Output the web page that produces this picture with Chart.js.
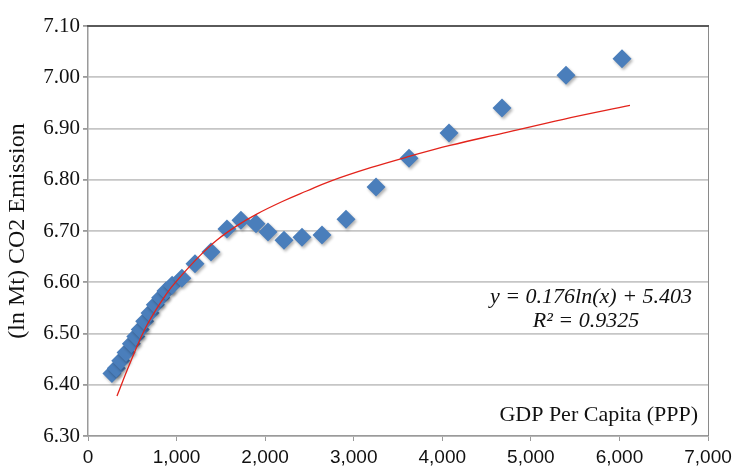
<!DOCTYPE html>
<html>
<head>
<meta charset="utf-8">
<script src="https://cdn.jsdelivr.net/npm/chart.js@4"></script>
<style>
  html, body { margin: 0; padding: 0; background: #fff; }
  #wrap { width: 744px; height: 468px; }
</style>
</head>
<body>
<div id="wrap"><canvas id="grafico"></canvas></div>
<script>
// GDP per capita (PPP) vs ln CO2 emission
const gdp = [270, 320, 370, 430, 490, 540, 590, 640, 700, 760, 820, 880, 950, 1060,
  1208, 1389, 1569, 1727, 1897, 2032, 2213, 2416, 2642, 2913, 3252, 3624, 4076, 4674, 5397, 6029];
const co2 = [6.422, 6.432, 6.447, 6.463, 6.480, 6.494, 6.508, 6.524, 6.540, 6.556, 6.570, 6.583, 6.594, 6.608,
  6.636, 6.659, 6.704, 6.721, 6.714, 6.698, 6.682, 6.688, 6.692, 6.723, 6.786, 6.842, 6.891, 6.940, 7.004, 7.036];

// red trend line as drawn
const trendX = [327, 474, 662, 888, 1039, 1264, 1453, 1679, 1905, 2200, 2469, 2732, 3200, 3636, 4087, 4689, 5368, 6119];
const trendY = [6.378, 6.442, 6.515, 6.578, 6.610, 6.652, 6.682, 6.710, 6.733, 6.758, 6.778, 6.797, 6.824, 6.846, 6.867, 6.891, 6.918, 6.945];

const yTicks = [6.30, 6.40, 6.50, 6.60, 6.70, 6.80, 6.90, 7.00, 7.10];
const xTicks = [0, 1000, 2000, 3000, 4000, 5000, 6000, 7000];

const textos = {
  ecuacion: "y = 0.176ln(x) + 5.403",
  r2: "R² = 0.9325",
  ejeX: "GDP Per Capita (PPP)",
  ejeY: "(ln Mt) CO2 Emission"
};

const puntos = gdp.map((g, i) => ({ x: g, y: co2[i] }));
const tendencia = trendX.map((g, i) => ({ x: g, y: trendY[i] }));

const serif = "'Liberation Serif', 'DejaVu Serif', serif";
const narrow = "'Liberation Sans Narrow', 'Liberation Sans', Arial, sans-serif";

const sombra = {
  id: 'sombra',
  beforeDatasetDraw(chart, args) {
    if (args.index === 1) {
      const ctx = chart.ctx;
      ctx.save();
      ctx.shadowColor = 'rgba(0,0,0,0.3)';
      ctx.shadowBlur = 3;
      ctx.shadowOffsetX = 1.5;
      ctx.shadowOffsetY = 2;
    }
  },
  afterDatasetDraw(chart, args) {
    if (args.index === 1) chart.ctx.restore();
  }
};

const marco = {
  id: 'marco',
  afterDraw(chart) {
    const { ctx, chartArea: a } = chart;
    ctx.save();
    // right border
    ctx.strokeStyle = '#8a8a8a';
    ctx.lineWidth = 1;
    ctx.beginPath();
    ctx.moveTo(a.right + 0.5, a.top);
    ctx.lineTo(a.right + 0.5, a.bottom);
    ctx.stroke();
    // top border
    ctx.strokeStyle = '#5a5a5a';
    ctx.lineWidth = 2;
    ctx.beginPath();
    ctx.moveTo(a.left - 1, a.top);
    ctx.lineTo(a.right + 1, a.top);
    ctx.stroke();

    ctx.fillStyle = '#111';
    ctx.font = 'italic 22px ' + serif;
    ctx.textAlign = 'center';
    ctx.textBaseline = 'middle';
    ctx.fillText(textos.ecuacion, a.left + 503, a.top + 271);
    ctx.fillText(textos.r2, a.left + 498, a.top + 295);

    ctx.font = '22px ' + serif;
    ctx.textAlign = 'right';
    ctx.fillText(textos.ejeX, a.right - 10, a.top + 389);
    ctx.restore();
  }
};

new Chart(document.getElementById('grafico'), {
  type: 'scatter',
  data: {
    datasets: [
      {
        type: 'line',
        data: tendencia,
        borderColor: '#e3231b',
        borderWidth: 1.3,
        pointRadius: 0,
        fill: false,
        tension: 0.4
      },
      {
        data: puntos,
        pointStyle: 'rectRot',
        pointRadius: 9.5,
        backgroundColor: '#4a7ebb',
        borderColor: '#4a7ebb',
        borderWidth: 0
      }
    ]
  },
  options: {
    responsive: true,
    maintainAspectRatio: false,
    animation: false,
    layout: { padding: { top: 26, right: 36, left: 0, bottom: 0 } },
    plugins: { legend: { display: false }, tooltip: { enabled: false } },
    scales: {
      x: {
        type: 'linear',
        min: 0, max: 7000,
        afterBuildTicks: s => { s.ticks = xTicks.map(v => ({ value: v })); },
        afterFit: s => { s.height = 32; },
        border: { color: '#9a9a9a', width: 1.5 },
        grid: { drawOnChartArea: false, tickLength: 5, color: '#9a9a9a', lineWidth: 1 },
        ticks: {
          color: '#111',
          padding: 5,
          maxRotation: 0,
          font: { family: narrow, size: 19 },
          callback: v => v.toLocaleString('en-US')
        }
      },
      y: {
        min: 6.3, max: 7.1,
        afterBuildTicks: s => { s.ticks = yTicks.map(v => ({ value: v })); },
        afterFit: s => { s.width = 88; },
        border: { color: '#9a9a9a', width: 1.5 },
        grid: { color: '#c6c6c6', lineWidth: 1.8, tickLength: 5, tickColor: '#9a9a9a' },
        title: {
          display: true,
          text: textos.ejeY,
          color: '#111',
          font: { family: serif, size: 24 },
          padding: { top: 3, bottom: 0 }
        },
        ticks: {
          color: '#111',
          padding: 3,
          font: { family: serif, size: 21 },
          callback: v => v.toFixed(2)
        }
      }
    }
  },
  plugins: [sombra, marco]
});
</script>
</body>
</html>
